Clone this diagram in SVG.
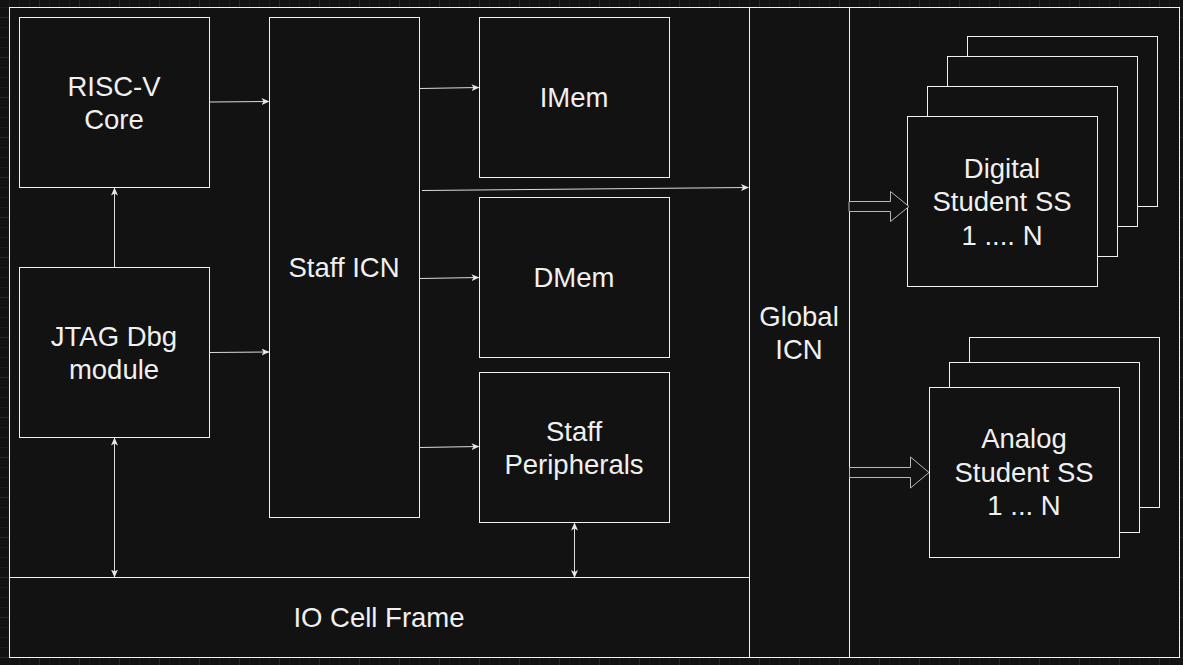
<svg xmlns="http://www.w3.org/2000/svg" width="1183" height="665" viewBox="0 0 1183 665">
<defs>
<pattern id="grid" patternUnits="userSpaceOnUse" x="39" y="17" width="40" height="40">
<path d="M10.5,0V40M20.5,0V40M30.5,0V40M0,10.5H40M0,20.5H40M0,30.5H40" stroke="#1c1c1c" stroke-width="1" fill="none"/>
<path d="M0.5,0V40M0,0.5H40" stroke="#282828" stroke-width="1" fill="none"/>
</pattern>
<marker id="ah" viewBox="0 0 8 7" refX="7.5" refY="3.5" markerWidth="8" markerHeight="7" markerUnits="userSpaceOnUse" orient="auto-start-reverse">
<path d="M0,0 L8,3.5 L0,7 L2,3.5 Z" fill="#e6e6e6"/>
</marker>
<style>
.box{fill:#121212;stroke:#f0f0f0;stroke-width:1}
.t{font-family:"Liberation Sans",Arial,Helvetica,sans-serif;font-size:27.5px;fill:#f0f0f0;text-anchor:middle}
.ln{stroke:#dcdcdc;stroke-width:1;fill:none}
.blk{fill:#121212;stroke:#b8b8b8;stroke-width:1}
</style>
</defs>
<rect x="0" y="0" width="1183" height="665" fill="#121212"/>
<rect x="0" y="0" width="1183" height="665" fill="url(#grid)"/>

<g id="chip-frame"><rect class="box" x="9.5" y="7.5" width="740" height="650"/></g>
<g id="global-icn"><rect class="box" x="749.5" y="7.5" width="100" height="650"/><text class="t" x="799" y="325.5">Global</text><text class="t" x="799" y="358.5">ICN</text></g>
<g id="student-frame"><rect class="box" x="849.5" y="7.5" width="330" height="650"/></g>
<g id="io-cell-frame"><rect class="box" x="9.5" y="577.5" width="740" height="80"/><text class="t" x="379" y="627">IO Cell Frame</text></g>

<g id="risc-v-core"><rect class="box" x="19.5" y="17.5" width="190" height="170"/><text class="t" x="114" y="96">RISC-V</text><text class="t" x="114" y="128.5">Core</text></g>
<g id="jtag"><rect class="box" x="19.5" y="267.5" width="190" height="170"/><text class="t" x="114" y="346">JTAG Dbg</text><text class="t" x="114" y="378.5">module</text></g>
<g id="staff-icn"><rect class="box" x="269.5" y="17.5" width="150" height="500"/><text class="t" x="344" y="277">Staff ICN</text></g>
<g id="imem"><rect class="box" x="479.5" y="17.5" width="190" height="160"/><text class="t" x="574" y="107">IMem</text></g>
<g id="dmem"><rect class="box" x="479.5" y="197.5" width="190" height="160"/><text class="t" x="574" y="287">DMem</text></g>
<g id="staff-peripherals"><rect class="box" x="479.5" y="372.5" width="190" height="150"/><text class="t" x="574" y="441">Staff</text><text class="t" x="574" y="474">Peripherals</text></g>

<g id="digital-student-ss">
<rect class="box" x="967.5" y="36.5" width="190" height="170"/>
<rect class="box" x="947.5" y="56.5" width="190" height="170"/>
<rect class="box" x="927.5" y="86.5" width="190" height="170"/>
<rect class="box" x="907.5" y="116.5" width="190" height="170"/>
<text class="t" x="1002" y="177.5">Digital</text><text class="t" x="1002" y="211">Student SS</text><text class="t" x="1002" y="244.5">1 .... N</text>
</g>
<g id="analog-student-ss">
<rect class="box" x="969.5" y="337.5" width="190" height="170"/>
<rect class="box" x="949.5" y="362.5" width="190" height="170"/>
<rect class="box" x="929.5" y="387.5" width="190" height="170"/>
<text class="t" x="1024" y="448">Analog</text><text class="t" x="1024" y="481.5">Student SS</text><text class="t" x="1024" y="515">1 ... N</text>
</g>

<g id="connectors">
<path class="ln" d="M209.5,102 L269,101.5" marker-end="url(#ah)"/>
<path class="ln" d="M209.5,352.5 L269,352" marker-end="url(#ah)"/>
<path class="ln" d="M114.5,267.5 L114.5,188" marker-end="url(#ah)"/>
<path class="ln" d="M114.5,438 L114.5,577" marker-start="url(#ah)" marker-end="url(#ah)"/>
<path class="ln" d="M574.5,523 L574.5,577.5" marker-start="url(#ah)" marker-end="url(#ah)"/>
<path class="ln" d="M419.5,88.5 L479,87.5" marker-end="url(#ah)"/>
<path class="ln" d="M422,190.5 L748.5,187.5" marker-end="url(#ah)"/>
<path class="ln" d="M419.5,278.5 L479,277.5" marker-end="url(#ah)"/>
<path class="ln" d="M419.5,447.5 L479,446.5" marker-end="url(#ah)"/>
<path class="blk" d="M849,201.5 H890.5 V191.5 L909,206.5 L890.5,221.5 V211.5 H849 Z"/>
<path class="blk" d="M849.5,467.5 H910.5 V457 L929,472.5 L910.5,488 V477.5 H849.5 Z"/>
</g>
</svg>
